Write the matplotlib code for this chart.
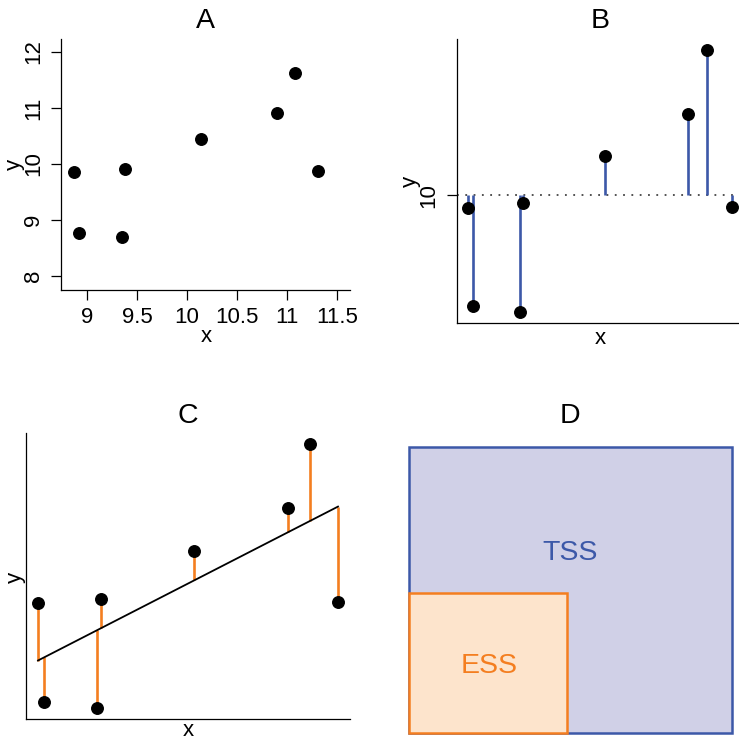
import numpy as np
import matplotlib
matplotlib.use('Agg')
import matplotlib.pyplot as plt
from matplotlib.patches import Rectangle

plt.rcParams['font.family'] = ['Liberation Sans', 'DejaVu Sans']

# ---- data ----
x_vals = [8.87, 8.92, 9.35, 9.38, 10.14, 10.90, 11.08, 11.31]
y_vals = [9.86, 8.76, 8.69, 9.91, 10.44, 10.91, 11.63, 9.87]
xticks_a = [9, 9.5, 10, 10.5, 11, 11.5]
xticklabels_a = ['9', '9.5', '10', '10.5', '11', '11.5']
yticks_a = [8, 9, 10, 11, 12]
yticklabels_a = ['8', '9', '10', '11', '12']
yticks_b = [10]
yticklabels_b = ['10']
panel_titles = ['A', 'B', 'C', 'D']
box_labels = ['TSS', 'ESS']

BLUE = '#3C58A8'
BLUE_FILL = '#D0D0E7'
ORANGE = '#F47E20'
ORANGE_FILL = '#FDE4CC'

x = np.array(x_vals)
y = np.array(y_vals)
ybar = y.mean()
slope, intercept = np.polyfit(x, y, 1)
fitted = intercept + slope * x
TSS = np.sum((y - ybar) ** 2)
ESS = np.sum((fitted - ybar) ** 2)

W, H = 739, 740
fig = plt.figure(figsize=(W / 100, H / 100), dpi=100)


def rect_px(l, t, r, b):
    return [l / W, 1 - b / H, (r - l) / W, (b - t) / H]


def fxy(px, py):
    return (px / W, 1 - py / H)


def rlim(v):
    lo, hi = min(v), max(v)
    s = hi - lo
    return lo - 0.04 * s, hi + 0.04 * s


def style(ax):
    for side in ['top', 'right']:
        ax.spines[side].set_visible(False)
    for side in ['left', 'bottom']:
        ax.spines[side].set_linewidth(0.9)
    ax.patch.set_alpha(0)


axA = fig.add_axes(rect_px(61, 39, 350, 290))
axB = fig.add_axes(rect_px(457, 39, 743, 323))
axC = fig.add_axes(rect_px(26, 433, 350, 719))
axD = fig.add_axes(rect_px(409, 447, 732, 733))

LS = 16
TS = 20.5
MS = 8.3

# ---- A ----
style(axA)
axA.plot(x, y, 'o', color='black', ms=MS, clip_on=False, zorder=3)
axA.set_xlim(8.74, 11.63)
axA.set_ylim(7.75, 12.23)
axA.set_xticks(xticks_a)
axA.set_xticklabels(xticklabels_a)
axA.set_yticks(yticks_a)
axA.set_yticklabels(yticklabels_a)
axA.tick_params(direction='out', length=7, width=0.9, labelsize=LS, pad=5)
for lab in axA.get_yticklabels():
    lab.set_rotation(90)
    lab.set_va('center')

# ---- B ----
style(axB)
axB.set_xlim(*rlim(x))
axB.set_ylim(*rlim(y))
axB.axhline(ybar, color='#444444', lw=1.3, ls=(0, (1, 3.6)), zorder=1)
axB.vlines(x, ybar, y, color=BLUE, lw=1.9, zorder=2)
axB.plot(x, y, 'o', color='black', ms=MS, clip_on=False, zorder=3)
axB.set_xticks([])
axB.set_yticks(yticks_b)
axB.set_yticklabels(yticklabels_b)
axB.tick_params(direction='out', length=7.5, width=0.9, labelsize=LS, pad=5)
for lab in axB.get_yticklabels():
    lab.set_rotation(90)
    lab.set_va('center')

# ---- C ----
style(axC)
axC.set_xlim(*rlim(x))
axC.set_ylim(*rlim(y))
axC.vlines(x, fitted, y, color=ORANGE, lw=1.9, zorder=1)
axC.plot(x, fitted, color='black', lw=1.3, zorder=2)
axC.plot(x, y, 'o', color='black', ms=MS, clip_on=False, zorder=3)
axC.set_xticks([])
axC.set_yticks([])

# ---- D ----
axD.set_xlim(0, TSS)
axD.set_ylim(0, TSS)
axD.axis('off')
axD.add_patch(Rectangle((0, 0), TSS, TSS, facecolor=BLUE_FILL, edgecolor=BLUE,
                        lw=1.8, clip_on=False, zorder=1))
axD.add_patch(Rectangle((0, 0), ESS, ESS, facecolor=ORANGE_FILL, edgecolor=ORANGE,
                        lw=1.8, clip_on=False, zorder=2))
axD.text(0.5, 0.605, box_labels[0], transform=axD.transAxes, color=BLUE,
         fontsize=TS, ha='center', va='baseline', zorder=3)
axD.text(0.248, 0.21, box_labels[1], transform=axD.transAxes, color=ORANGE,
         fontsize=TS, ha='center', va='baseline', zorder=3)

# ---- titles ----
for t, (px, py) in zip(panel_titles, [(205, 28), (600, 28), (188, 423), (570, 423)]):
    fig.text(*fxy(px, py), t, fontsize=TS, ha='center', va='baseline')

# ---- axis labels ----
for (px, py) in [(206, 337), (600, 338), (188, 731)]:
    fig.text(*fxy(px, py), 'x', fontsize=LS, ha='center', va='center')
for (px, py) in [(14, 164), (410, 181), (15, 577)]:
    fig.text(*fxy(px, py), 'y', fontsize=LS, ha='center', va='center', rotation=90)

fig.savefig('out.png', dpi=100)
